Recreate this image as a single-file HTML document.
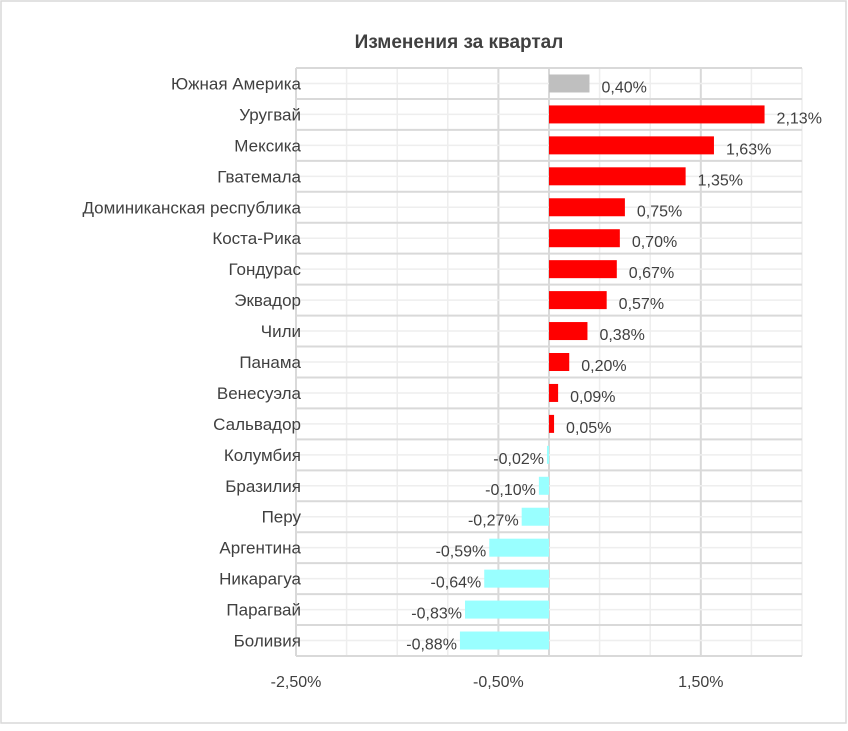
<!DOCTYPE html>
<html><head><meta charset="utf-8"><style>
body{margin:0;background:#fff;}
#c{position:relative;width:848px;height:726px;}
svg text{font-family:"Liberation Sans","DejaVu Sans",sans-serif;}
</style></head><body>
<div id="c">
<svg id="s" width="848" height="726" xmlns="http://www.w3.org/2000/svg">
<rect x="1" y="1" width="845" height="722" fill="#fff" stroke="#d9d9d9" stroke-width="1.5"/>
<text x="459" y="48" text-anchor="middle" font-size="19" font-weight="bold" fill="#404040">Изменения за квартал</text>
<g id="grid"></g><g id="bars"></g><g id="labels"></g>
</svg></div>
<script>
const categories=["Южная Америка","Уругвай","Мексика","Гватемала","Доминиканская республика","Коста-Рика","Гондурас","Эквадор","Чили","Панама","Венесуэла","Сальвадор","Колумбия","Бразилия","Перу","Аргентина","Никарагуа","Парагвай","Боливия"];
const values=[0.40,2.13,1.63,1.35,0.75,0.70,0.67,0.57,0.38,0.20,0.09,0.05,-0.02,-0.10,-0.27,-0.59,-0.64,-0.83,-0.88];
const tickValues=[-2.5,-0.5,1.5];
const tickLabels=["-2,50%","-0,50%","1,50%"];
const NS="http://www.w3.org/2000/svg";
const x0=549,pxPer=101.2,plotTop=68,plotBottom=656,n=categories.length,rowH=(plotBottom-plotTop)/n;
const X=v=>x0+v*pxPer;
const Y=i=>plotTop+i*rowH;
function mk(t,a,p){const e=document.createElementNS(NS,t);for(const k in a)e.setAttribute(k,a[k]);p.appendChild(e);return e;}
const grid=document.getElementById('grid'),bars=document.getElementById('bars'),labs=document.getElementById('labels');
for(let v=-2.5;v<=2.5001;v+=0.5){
 const major=Math.abs(((v+2.5)%2))<0.01||Math.abs(v)<0.01;
 const l=mk('line',{x1:X(v),x2:X(v),y1:plotTop,y2:plotBottom,stroke:major?'#d9d9d9':'#eeeeee','stroke-width':major?2:1.5},grid);
 
 
}
for(let i=0;i<=n;i++){
 const l=mk('line',{x1:X(-2.5),x2:X(2.5),y1:Y(i),y2:Y(i),stroke:'#d9d9d9','stroke-width':2},grid);
 
 
 if(i<n){const m=mk('line',{x1:X(-2.5),x2:X(2.5),y1:Y(i)+rowH/2,y2:Y(i)+rowH/2,stroke:'#eeeeee','stroke-width':1.5},grid);
 
 }
}
categories.forEach((c,i)=>{
 const v=values[i],cy=Y(i)+rowH/2,h=18;
 const col=i===0?'#bfbfbf':(v>=0?'#ff0000':'#99ffff');
 const r=mk('rect',{x:Math.min(X(0),X(v)),y:cy-h/2,width:Math.abs(X(v)-X(0)),height:h,fill:col},bars);
 
 
 const t=mk('text',{x:301,y:cy+6,'text-anchor':'end','font-size':17,fill:'#404040'},labs);
 t.textContent=c;
 
 
 const s=(v.toFixed(2)).replace('.',',')+'%';
 const vt=mk('text',{x:v>=0?X(v)+12:X(v)-3,y:cy+9,'text-anchor':v>=0?'start':'end','font-size':16,fill:'#404040'},labs);
 vt.textContent=s;
 
 
});
tickValues.forEach((v,i)=>{
 const t=mk('text',{x:X(v),y:687,'text-anchor':'middle','font-size':16,fill:'#404040'},labs);
 t.textContent=tickLabels[i];
 
 
});
</script></body></html>
